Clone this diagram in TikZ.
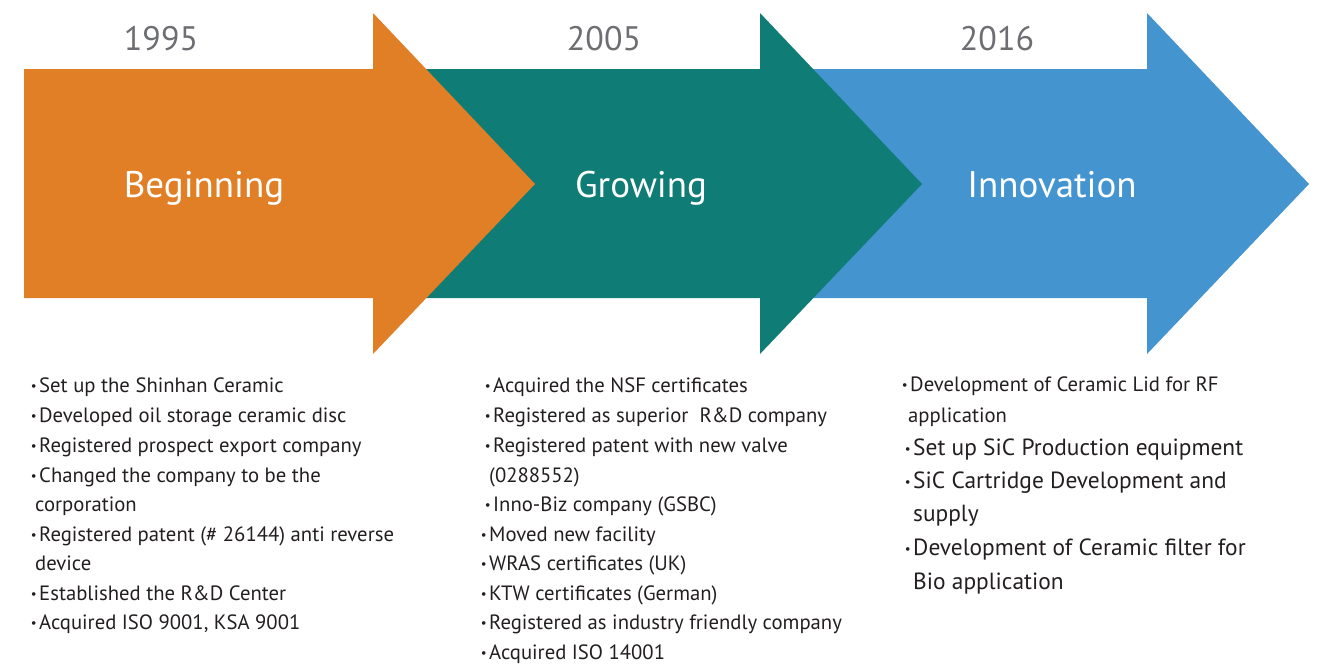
\documentclass[tikz,border=0pt]{standalone}
\usepackage{fontspec}
\setmainfont{PT Sans}
\usetikzlibrary{positioning}
\definecolor{beginorange}{HTML}{E07F26}
\definecolor{growteal}{HTML}{0F7C75}
\definecolor{innoblue}{HTML}{4494D0}
\definecolor{yeargray}{HTML}{6D6E71}
\definecolor{itemgray}{HTML}{231F20}
\tikzset{
  yearlabel/.style={text=yeargray,font=\fontsize{34}{40}\selectfont,anchor=base,inner sep=0pt},
  phaselabel/.style={text=white,font=\fontsize{37}{44}\selectfont,anchor=base,inner sep=0pt},
  entry/.style={text=itemgray,font=\fontsize{20.7}{24}\selectfont,anchor=base west,inner sep=0pt},
  bigentry/.style={entry,font=\fontsize{23.4}{27}\selectfont}
}
\newcommand\listbullet{\llap{\raisebox{1.5pt}{\fontsize{13}{13}\selectfont\textbullet}\hspace{2.5pt}}}
\newcommand*\timelinearrow[4]{
\fill[#4] (#1,69) -- (#2,69) -- (#2,13) -- (#3,184)
    -- (#2,354) -- (#2,298) -- (#1,298) -- cycle;
}

\begin{document}
\begin{tikzpicture}[x=1pt,y=-1pt]
    \useasboundingbox (0,0) rectangle (1321,664);

    % arrows, last one first
    \timelinearrow{760}{1147}{1309}{innoblue}
    \timelinearrow{373}{760}{922}{growteal}
    \timelinearrow{24}{373}{535}{beginorange}

    \node[yearlabel] (year-1) at (161,50) {1995};
    \node[yearlabel] (year-2) at (604,50) {2005};
    \node[yearlabel] (year-3) at (997,50) {2016};

    \node[phaselabel] (phase-1) at (204,197) {Beginning};
    \node[phaselabel] (phase-2) at (641,197) {Growing};
    \node[phaselabel] (phase-3) at (1052,197) {Innovation};

    % 1995
    \foreach \xb/\yb/\txt [count=\n] in {
        39/392/{\listbullet Set up the Shinhan Ceramic},
        39/422/{\listbullet Developed oil storage ceramic disc},
        39/452/{\listbullet Registered prospect export company},
        39/482/{\listbullet Changed the company to be the},
        35/511/{corporation},
        39/541/{\listbullet Registered patent (\# 26144) anti reverse},
        35/570/{device},
        39/600/{\listbullet Established the R\&D Center},
        39/629/{\listbullet Acquired ISO 9001, KSA 9001}}
      \node[entry] (begin-\n) at (\xb,\yb) {\txt};

    % 2005
    \foreach \xb/\yb/\txt [count=\n] in {
        493/392/{\listbullet Acquired the NSF certificates},
        493/422/{\listbullet Registered as superior\ \ R\&D company},
        493/452/{\listbullet Registered patent with new valve},
        489/482/{(0288552)},
        493/511/{\listbullet Inno-Biz company (GSBC)},
        489/541/{\listbullet Moved new facility},
        489/570/{\listbullet WRAS certificates (UK)},
        489/600/{\listbullet KTW certificates (German)},
        489/629/{\listbullet Registered as industry friendly company},
        489/659/{\listbullet Acquired ISO 14001}}
      \node[entry] (grow-\n) at (\xb,\yb) {\txt};

    % 2016
    \node[entry] (inno-1) at (910,391) {\listbullet Development of Ceramic Lid for RF};
    \node[entry] (inno-2) at (908,422) {application};
    \foreach \yb/\txt [count=\n from 3] in {
        455/{\listbullet Set up SiC Production equipment},
        488/{\listbullet SiC Cartridge Development and},
        521/{supply},
        555/{\listbullet Development of Ceramic filter for},
        589/{Bio application}}
      \node[bigentry] (inno-\n) at (913,\yb) {\txt};

\end{tikzpicture}
\end{document}
